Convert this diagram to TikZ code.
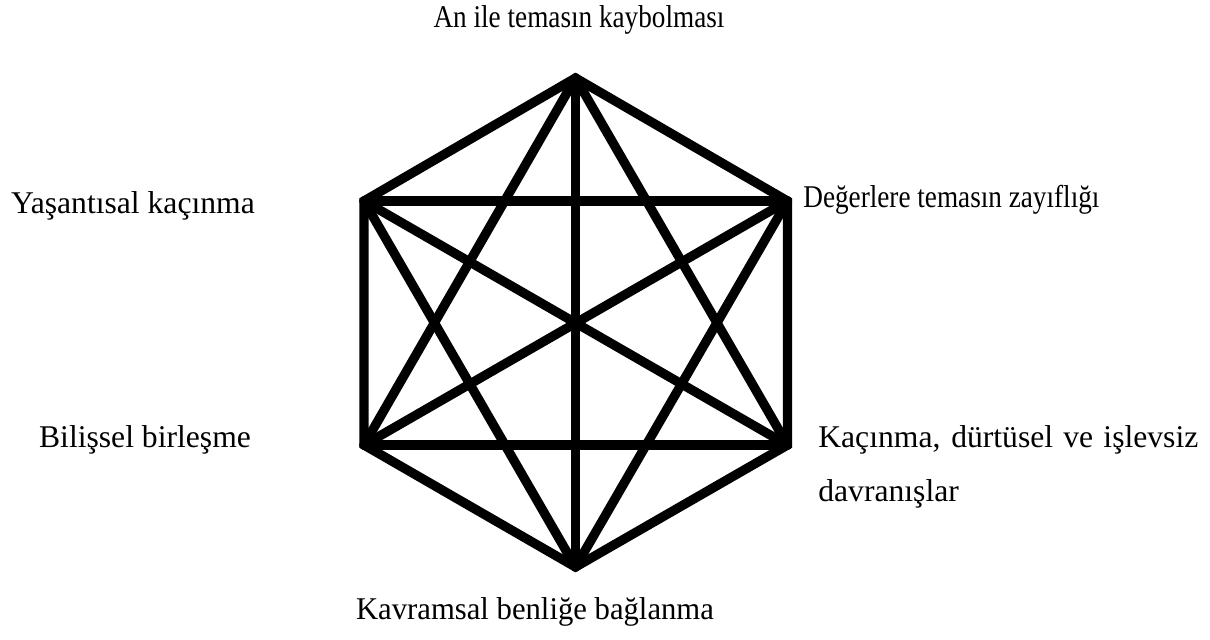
\documentclass[tikz,border=0pt]{standalone}
\usepackage{fontspec}
\setmainfont{Liberation Serif}

\begin{document}
\begin{tikzpicture}[font=\fontsize{18}{30.7}\selectfont,
  edge/.style={line width=5.3pt,line cap=round,line join=miter}]
  \useasboundingbox (0,0) rectangle (24.2,12.78);
  \coordinate (t) at (11.51,11.22);
  \coordinate (ur) at (15.75,8.76);
  \coordinate (lr) at (15.75,3.88);
  \coordinate (b) at (11.51,1.44);
  \coordinate (ll) at (7.28,3.88);
  \coordinate (ul) at (7.28,8.76);
  \draw[edge] (t) -- (ur) -- (lr) -- (b) -- (ll) -- (ul) -- cycle;
  \foreach \p/\q in {t/lr,t/b,t/ll,ur/b,ur/ll,ur/ul,lr/ll,lr/ul,b/ul} \draw[edge] (\p) -- (\q);
  \node (lt) at (11.58,12.38) {\scalebox{0.86}[1]{An ile temasın kaybolması}};
  \node (lul) at (2.66,8.66) {Yaşantısal kaçınma};
  \node[anchor=west,inner sep=0] (lur) at (16.06,8.78) {\scalebox{0.86}[1]{Değerlere temasın zayıflığı}};
  \node (lll) at (2.9,3.98) {Bilişsel birleşme};
  \node[anchor=west,inner sep=0,align=left] (llr) at (16.36,3.44)
    {\makebox[7.6cm][s]{Kaçınma, dürtüsel ve işlevsiz}\\davranışlar};
  \node (lb) at (10.7,0.54) {\scalebox{0.97}[1]{Kavramsal benliğe bağlanma}};
\end{tikzpicture}
\end{document}
